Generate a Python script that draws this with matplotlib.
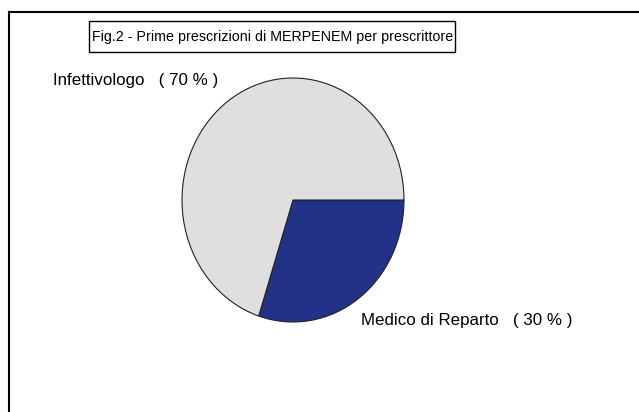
import matplotlib
matplotlib.use("Agg")
import matplotlib.pyplot as plt
from matplotlib.patches import Rectangle
from matplotlib.lines import Line2D

# data
labels = ["Medico di Reparto", "Infettivologo"]
values = [30, 70]
colors = ["#233289", "#DFDFDF"]

W, H = 639, 412
fig = plt.figure(figsize=(W / 100, H / 100), dpi=100)
fig.patch.set_facecolor("white")

def fx(px):
    return px / W

def fy(py):
    return 1 - py / H

font = ["Liberation Sans", "DejaVu Sans"]

# outer frame (left and top only visible)
fig.add_artist(Line2D([fx(8.5), fx(8.5)], [fy(12), 0], color="black", lw=1.5))
fig.add_artist(Line2D([fx(8.5), 1], [fy(12), fy(12)], color="black", lw=1.5))

# title box
fig.add_artist(Rectangle((fx(89), fy(52)), fx(455) - fx(89), fy(21) - fy(52),
                         fill=False, edgecolor="black", lw=1))
fig.text(fx(273), fy(37), "Fig.2 - Prime prescrizioni di MERPENEM per prescrittore",
         ha="center", va="center", fontsize=10.3, family=font)

# pie (slightly elliptical, like the original)
cx, cy, rx, ry = 293, 200, 111, 122
ax = fig.add_axes([fx(cx - rx), fy(cy + ry), 2 * rx / W, 2 * ry / H])
ax.pie(values, colors=colors, startangle=0, counterclock=False, radius=1,
       wedgeprops=dict(edgecolor="#222222", linewidth=0.8))
ax.set_aspect("auto")
ax.set_xlim(-1, 1)
ax.set_ylim(-1, 1)
ax.axis("off")

fig.text(fx(53), fy(81), f"{labels[1]}   ( {values[1]} % )", ha="left", va="center",
         fontsize=12.2, family=font)
fig.text(fx(361), fy(321), f"{labels[0]}   ( {values[0]} % )", ha="left", va="center",
         fontsize=12.2, family=font)

fig.savefig("out.png", dpi=100)
